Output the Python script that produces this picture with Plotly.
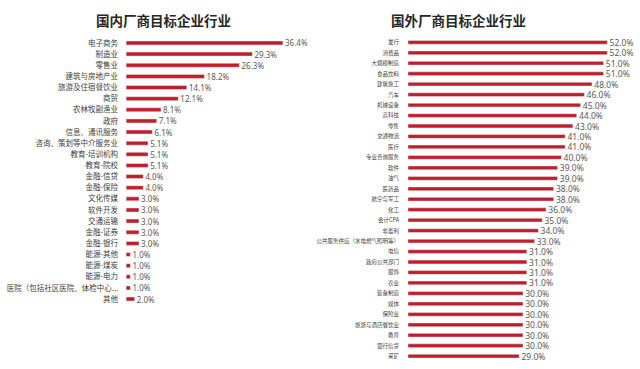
import plotly.graph_objects as go

left_title = "国内厂商目标企业行业"
left_categories = ["电子商务", "制造业", "零售业", "建筑与房地产业", "旅游及住宿餐饮业", "商贸",
                   "农林牧副渔业", "政府", "信息、通讯服务", "咨询、策划等中介服务业", "教育-培训机构",
                   "教育-院校", "金融-信贷", "金融-保险", "文化传媒", "软件开发", "交通运输",
                   "金融-证券", "金融-银行", "能源-其他", "能源-煤炭", "能源-电力",
                   "医院（包括社区医院、体检中心...", "其他"]
left_values = [36.4, 29.3, 26.3, 18.2, 14.1, 12.1, 8.1, 7.1, 6.1, 5.1, 5.1, 5.1, 4.0, 4.0,
               3.0, 3.0, 3.0, 3.0, 3.0, 1.0, 1.0, 1.0, 1.0, 2.0]

right_title = "国外厂商目标企业行业"
right_categories = ["发行", "消费品", "大规模制造", "食品饮料", "建筑施工", "汽车", "机械设备",
                    "高科技", "零售", "交通物流", "医疗", "专业咨询服务", "软件", "油气", "医药品",
                    "航空与军工", "化工", "会计CPA", "非盈利", "公共服务供应（水电燃气照明等）",
                    "电信", "政府公共部门", "服饰", "农业", "装备制造", "媒体", "保险业",
                    "旅游与酒店餐饮业", "教育", "银行信贷", "采矿"]
right_values = [52.0, 52.0, 51.0, 51.0, 48.0, 46.0, 45.0, 44.0, 43.0, 41.0, 41.0, 40.0, 39.0,
                39.0, 38.0, 38.0, 36.0, 35.0, 34.0, 33.0, 31.0, 31.0, 31.0, 31.0, 30.0, 30.0,
                30.0, 30.0, 30.0, 30.0, 29.0]

BAR = "#C01E2B"
FONT = "Noto Sans CJK SC, sans-serif"
NUMFONT = "Noto Sans, sans-serif"

fig = go.Figure()
fig.add_trace(go.Bar(
    x=left_values, y=left_categories, orientation="h", xaxis="x", yaxis="y",
    marker_color=BAR, width=0.36,
    text=[f" {v:.1f}%" for v in left_values], textposition="outside", constraintext="none",
    textfont=dict(size=8, color="#595959", family=NUMFONT), cliponaxis=False,
    hoverinfo="skip"))
fig.add_trace(go.Bar(
    x=right_values, y=right_categories, orientation="h", xaxis="x2", yaxis="y2",
    marker_color=BAR, width=0.36,
    text=[f" {v:.1f}%" for v in right_values], textposition="outside", constraintext="none",
    textfont=dict(size=8.5, color="#595959", family=NUMFONT), cliponaxis=False,
    hoverinfo="skip"))

fig.update_layout(
    width=640, height=369, margin=dict(l=0, r=0, t=0, b=0),
    paper_bgcolor="white", plot_bgcolor="white", showlegend=False,
    font=dict(family=FONT, color="#404040"),
    xaxis=dict(domain=[0.197, 0.5], range=[0, 45], visible=False, automargin=False),
    yaxis=dict(domain=[0.1745, 0.8986], anchor="x", type="category",
               categoryorder="array", categoryarray=left_categories,
               range=[len(left_categories) - 0.5, -0.5], automargin=False,
               showgrid=False, showline=False, ticks="", ticklabelstandoff=7,
               tickfont=dict(size=7.5, color="#404040", family=FONT)),
    xaxis2=dict(domain=[0.6375, 0.997], range=[0, 60], visible=False, anchor="y2",
                automargin=False),
    yaxis2=dict(domain=[0.0206, 0.8995], anchor="x2", type="category",
                categoryorder="array", categoryarray=right_categories,
                range=[len(right_categories) - 0.5, -0.5], automargin=False,
                showgrid=False, showline=False, ticks="", ticklabelstandoff=8,
                tickfont=dict(size=5.5, color="#404040", family=FONT)),
    annotations=[
        dict(text=f"<b>{left_title}</b>", x=163 / 640, y=1 - 20 / 369, xref="paper", yref="paper",
             xanchor="center", yanchor="middle",
             showarrow=False, font=dict(size=13.5, color="#262626", family=FONT)),
        dict(text=f"<b>{right_title}</b>", x=458 / 640, y=1 - 20 / 369, xref="paper", yref="paper",
             xanchor="center", yanchor="middle",
             showarrow=False, font=dict(size=13.5, color="#262626", family=FONT)),
    ],
)

fig.write_html("out.html", config={"displayModeBar": False},
               post_script="document.body.style.margin='0';document.body.style.overflow='hidden';")
